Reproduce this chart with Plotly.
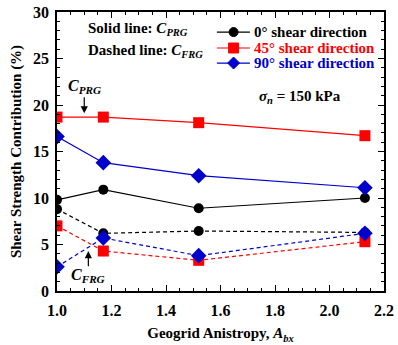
import plotly.graph_objects as go

# Geogrid anisotropy values
anisotropy = [1.0, 1.17, 1.52, 2.13]

# Shear strength contribution (%) - solid lines: C_PRG
prg_0 = [9.8, 10.9, 8.9, 10.0]
prg_45 = [18.7, 18.7, 18.1, 16.7]
prg_90 = [16.6, 13.8, 12.4, 11.1]

# Dashed lines: C_FRG
frg_0 = [8.8, 6.2, 6.45, 6.3]
frg_45 = [7.0, 4.3, 3.3, 5.3]
frg_90 = [2.6, 5.7, 3.8, 6.2]

legend_labels = ["0° shear direction", "45° shear direction", "90° shear direction"]

FONT = "Liberation Serif"

fig = go.Figure()

series = [
    (legend_labels[0], prg_0, frg_0, "black", "circle", 10),
    (legend_labels[1], prg_45, frg_45, "red", "square", 11),
    (legend_labels[2], prg_90, frg_90, "#0000cc", "diamond", 12),
]

for name, prg, frg, color, symbol, size in series:
    fig.add_trace(go.Scatter(
        x=anisotropy, y=prg, mode="lines+markers", name=name, showlegend=False,
        line=dict(color=color, width=1.2),
        marker=dict(symbol=symbol, size=size, color=color),
    ))
    fig.add_trace(go.Scatter(
        x=anisotropy, y=frg, mode="lines+markers", showlegend=False,
        line=dict(color=color, width=1.2, dash="4px,3px"),
        marker=dict(symbol=symbol, size=size, color=color),
    ))

axis_common = dict(
    showline=True, linecolor="black", linewidth=1.5, mirror="allticks",
    ticks="inside", ticklen=6, tickwidth=1, tickcolor="black",
    showgrid=False, zeroline=False, automargin=False,
    tickfont=dict(family=FONT, size=16, color="black"),
)

fig.update_xaxes(
    range=[1.0, 2.2], dtick=0.2, tickformat=".1f", ticklabelstandoff=4,
    tickprefix="<b>", ticksuffix="</b>",
    minor=dict(dtick=0.05, ticks="inside", ticklen=3, tickcolor="black"),
    title=dict(text="<b>Geogrid Anistropy, <i>A</i><sub><i>bx</i></sub></b>",
               font=dict(family=FONT, size=15, color="black"),
               standoff=10),
    **axis_common,
)
fig.update_yaxes(
    range=[0, 30], dtick=5, ticklabelstandoff=3,
    tickprefix="<b>", ticksuffix="</b>",
    minor=dict(dtick=1, ticks="inside", ticklen=3, tickcolor="black"),
    title=dict(text="<b>Shear Strength Contribution (%)</b>",
               font=dict(family=FONT, size=15, color="black"),
               standoff=8),
    **axis_common,
)

txt_font = dict(family=FONT, size=15, color="black")
fig.add_annotation(x=1.105, y=28.2, xref="x", yref="y", xanchor="left",
                   text="<b>Solid line: <i>C</i><sub><i>PRG</i></sub></b>",
                   showarrow=False, font=txt_font)
fig.add_annotation(x=1.105, y=25.8, xref="x", yref="y", xanchor="left",
                   text="<b>Dashed line: <i>C</i><sub><i>FRG</i></sub></b>",
                   showarrow=False, font=txt_font)
fig.add_annotation(x=1.89, y=20.9, xref="x", yref="y",
                   text="<b><i>σ</i><sub><i>n</i></sub> = 150 kPa</b>",
                   showarrow=False, font=txt_font)

# Arrow labels
fig.add_annotation(x=1.1, y=19.1, ax=1.1, ay=21.0, xref="x", yref="y",
                   axref="x", ayref="y", text="", showarrow=True,
                   arrowhead=2, arrowsize=1.2, arrowwidth=1.2, arrowcolor="black")
fig.add_annotation(x=1.1, y=22.0, xref="x", yref="y",
                   text="<b><i>C</i><sub><i>PRG</i></sub></b>", showarrow=False,
                   font=dict(family=FONT, size=16, color="black"))
fig.add_annotation(x=1.115, y=4.3, ax=1.115, ay=2.5, xref="x", yref="y",
                   axref="x", ayref="y", text="", showarrow=True,
                   arrowhead=2, arrowsize=1.2, arrowwidth=1.2, arrowcolor="black")
fig.add_annotation(x=1.115, y=1.7, xref="x", yref="y",
                   text="<b><i>C</i><sub><i>FRG</i></sub></b>", showarrow=False,
                   font=dict(family=FONT, size=16, color="black"))

# Compact legend: key line + marker glyph + coloured label per series
legend_rows = [0.928, 0.871, 0.817]
key_x0, key_x1, key_xc, label_x = 0.489, 0.590, 0.54, 0.596
for (name, _, _, color, symbol, _), ry in zip(series, legend_rows):
    fig.add_shape(type="line", xref="paper", yref="paper",
                  x0=key_x0, x1=key_x1, y0=ry, y1=ry,
                  line=dict(color=color, width=1.2))
    glyph = dict(xref="paper", yref="paper", xsizemode="pixel", ysizemode="pixel",
                 xanchor=key_xc, yanchor=ry, fillcolor=color,
                 line=dict(color=color, width=1))
    if symbol == "circle":
        fig.add_shape(type="circle", x0=-4.5, x1=4.5, y0=-4.5, y1=4.5, **glyph)
    elif symbol == "square":
        fig.add_shape(type="rect", x0=-5, x1=5, y0=-5, y1=5, **glyph)
    else:
        fig.add_shape(type="path", path="M 0 -6 L 6 0 L 0 6 L -6 0 Z", **glyph)
    fig.add_annotation(x=label_x, y=ry, xref="paper", yref="paper",
                       xanchor="left", yanchor="middle", showarrow=False,
                       text=f"<b>{name}</b>",
                       font=dict(family=FONT, size=15, color=color))

fig.update_layout(
    width=398, height=345,
    margin=dict(l=57, r=14, t=12, b=54),
    paper_bgcolor="white", plot_bgcolor="white",
    font=dict(family=FONT),
    showlegend=False,
)

fig.write_html("out.html")
